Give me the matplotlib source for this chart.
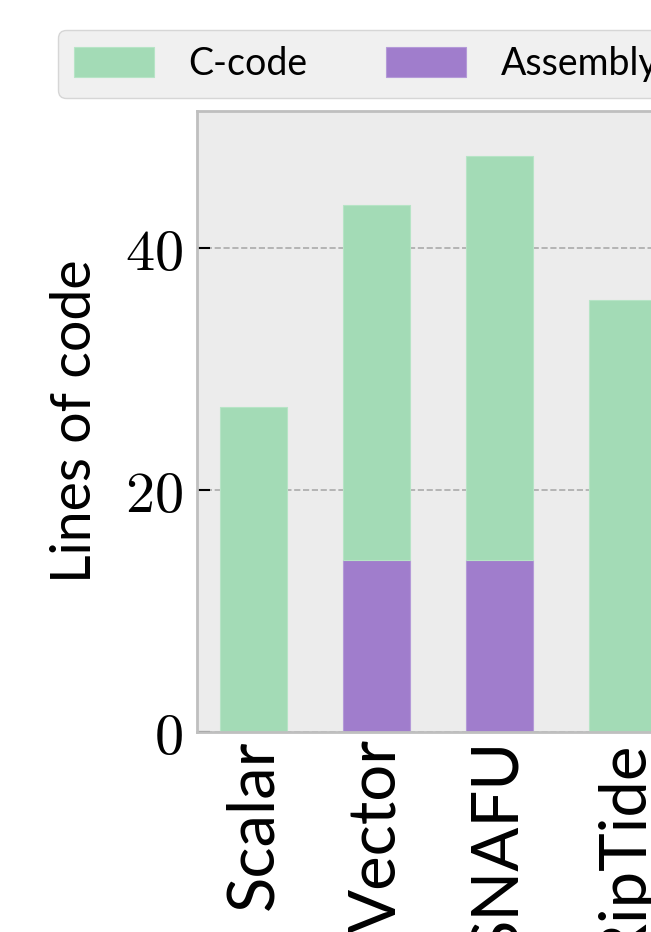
import matplotlib.pyplot as plt
import matplotlib.ticker as mticker
import numpy as np

plt.rcParams['mathtext.fontset'] = 'cm'
plt.rcParams['font.family'] = ['Lato', 'DejaVu Sans']

kernels = ["Scalar", "Vector", "SNAFU", "RipTide"]
asm_lines = [0, 14.2, 14.2, 0]
c_lines = [26.9, 29.4, 33.4, 35.7]

green = "#a3dbb6"
purple = "#a07dcc"

fig = plt.figure(figsize=(6.51, 9.32), dpi=100)
ax = fig.add_axes([0.3026, 0.2143, 0.740, 0.6666])
ax.set_facecolor("#ececec")

x = np.arange(len(kernels))
w = 0.545
ax.bar(x, asm_lines, w, color=purple, edgecolor="#b49ad8", linewidth=0.8,
       label="Assembly", zorder=2)
ax.bar(x, c_lines, w, bottom=asm_lines, color=green, edgecolor="#b6e4c6",
       linewidth=0.8, label="C-code", zorder=2)

ax.set_xlim(-0.46, 3.46)
ax.set_ylim(0, 51.35)
ax.set_yticks([0, 20, 40])
ax.yaxis.set_major_formatter(mticker.FuncFormatter(lambda v, p: r"$%d$" % v))
ax.set_xticks(x)
ax.set_xticklabels(kernels, rotation=90, fontsize=47)
ax.tick_params(axis="y", labelsize=42, direction="in", length=9, width=1.5,
               pad=10, color="black")
ax.tick_params(axis="x", direction="in", length=4, width=1.5, pad=5,
               color="black")
for t in ax.xaxis.get_major_ticks():
    t.tick1line.set_zorder(3)

ax.yaxis.grid(True, linestyle="--", color="#aaaaaa", linewidth=1.2)
ax.set_axisbelow(True)
for s in ax.spines.values():
    s.set_color("#bfbfbf")
    s.set_linewidth(2)

ax.set_ylabel("Lines of code", fontsize=40, labelpad=17)

handles, labels = ax.get_legend_handles_labels()
fig.legend(handles[::-1], labels[::-1], loc="upper left", ncol=2,
           bbox_to_anchor=(58 / 651, 1 - 30 / 932), borderaxespad=0,
           fontsize=27, handlelength=2.13, handleheight=0.85,
           handletextpad=0.93, columnspacing=2.1, borderpad=0.42,
           frameon=True, facecolor="#f0f0f0", edgecolor="#d6d6d6",
           framealpha=1)

fig.savefig("out.png", dpi=100)
